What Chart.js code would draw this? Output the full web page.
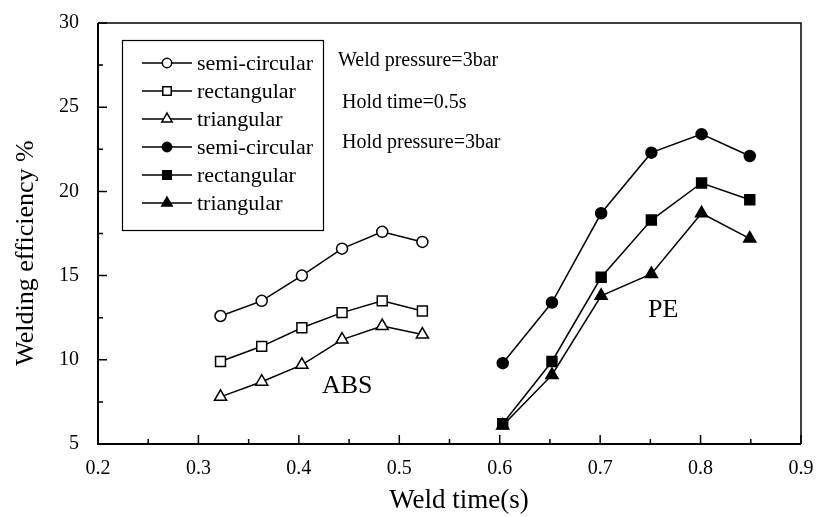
<!DOCTYPE html>
<html><head><meta charset="utf-8">
<script src="https://cdn.jsdelivr.net/npm/chart.js@4/dist/chart.umd.min.js"></script>
<style>html,body{margin:0;padding:0;background:#fff}canvas{display:block}</style>
</head><body>
<canvas id="c" width="825" height="517"></canvas>
<script>
// ---- data ----
const absTime = [0.322, 0.363, 0.403, 0.443, 0.483, 0.523];
const peTime  = [0.603, 0.652, 0.701, 0.751, 0.801, 0.849];
const absSemiCircular = [12.6, 13.5, 15.0, 16.6, 17.6, 17.0];
const absRectangular  = [9.9, 10.8, 11.9, 12.8, 13.5, 12.9];
const absTriangular   = [7.8, 8.7, 9.7, 11.2, 12.0, 11.5];
const peSemiCircular  = [9.8, 13.4, 18.7, 22.3, 23.4, 22.1];
const peRectangular   = [6.2, 9.9, 14.9, 18.3, 20.5, 19.5];
const peTriangular    = [6.1, 9.1, 13.8, 15.1, 18.7, 17.2];
const seriesLabels = ['semi-circular', 'rectangular', 'triangular', 'semi-circular', 'rectangular', 'triangular'];
const xMajorTicks = [0.2, 0.3, 0.4, 0.5, 0.6, 0.7, 0.8, 0.9];
const xMinorTicks = [0.25, 0.35, 0.45, 0.55, 0.65, 0.75, 0.85];
const yMajorTicks = [5, 10, 15, 20, 25, 30];
const yMinorTicks = [7.5, 12.5, 17.5, 22.5, 27.5];
const notes = ['Weld pressure=3bar', 'Hold time=0.5s', 'Hold pressure=3bar'];
const groupLabels = ['ABS', 'PE'];
const xTitle = 'Weld time(s)';
const yTitle = 'Welding efficiency %';

const SERIF = '"Liberation Serif","Times New Roman","DejaVu Serif",serif';

function pts(xs, ys) { return xs.map((x, i) => ({ x: x, y: ys[i] })); }

const styles = [
  { pointStyle: 'circle',   r: 5.5, fill: '#fff' },
  { pointStyle: 'rect',     r: 7,   fill: '#fff' },
  { pointStyle: 'triangle', r: 7,   fill: '#fff' },
  { pointStyle: 'circle',   r: 5.5, fill: '#000' },
  { pointStyle: 'rect',     r: 7,   fill: '#000' },
  { pointStyle: 'triangle', r: 7,   fill: '#000' }
];
const seriesData = [
  pts(absTime, absSemiCircular), pts(absTime, absRectangular), pts(absTime, absTriangular),
  pts(peTime, peSemiCircular), pts(peTime, peRectangular), pts(peTime, peTriangular)
];

const datasets = seriesData.map((d, i) => ({
  label: seriesLabels[i],
  data: d,
  showLine: true,
  tension: 0,
  borderColor: '#000',
  borderWidth: 1.5,
  pointStyle: styles[i].pointStyle,
  pointRadius: styles[i].r,
  pointHoverRadius: styles[i].r,
  pointBackgroundColor: styles[i].fill,
  pointBorderColor: '#000',
  pointBorderWidth: 1.5
}));

function drawMarker(ctx, style, r, fill, x, y) {
  ctx.save();
  ctx.fillStyle = fill; ctx.strokeStyle = '#000'; ctx.lineWidth = 1.5;
  if (Chart.helpers && Chart.helpers.drawPoint) {
    Chart.helpers.drawPoint(ctx, { pointStyle: style, radius: r, rotation: 0, borderWidth: 1.5 }, x, y);
  }
  ctx.restore();
}

const decor = {
  id: 'decor',
  afterDraw(chart) {
    const ctx = chart.ctx;
    const { left, right, top, bottom } = chart.chartArea;
    const xs = chart.scales.x, ys = chart.scales.y;
    ctx.save();
    ctx.strokeStyle = '#000';
    // frame
    ctx.lineWidth = 1.5;
    ctx.beginPath();
    ctx.moveTo(left, top); ctx.lineTo(right, top); ctx.lineTo(right, bottom);
    ctx.stroke();
    ctx.lineWidth = 2;
    ctx.beginPath();
    ctx.moveTo(left, top); ctx.lineTo(left, bottom); ctx.lineTo(right, bottom);
    ctx.stroke();
    // inward ticks
    ctx.lineWidth = 1.5;
    ctx.beginPath();
    xMajorTicks.forEach(v => { const p = xs.getPixelForValue(v); ctx.moveTo(p, bottom); ctx.lineTo(p, bottom - 9); });
    xMinorTicks.forEach(v => { const p = xs.getPixelForValue(v); ctx.moveTo(p, bottom); ctx.lineTo(p, bottom - 5); });
    yMajorTicks.forEach(v => { const p = ys.getPixelForValue(v); ctx.moveTo(left, p); ctx.lineTo(left + 9, p); });
    yMinorTicks.forEach(v => { const p = ys.getPixelForValue(v); ctx.moveTo(left, p); ctx.lineTo(left + 5, p); });
    ctx.stroke();

    // legend box
    ctx.lineWidth = 1.2;
    ctx.strokeRect(122.5, 40.5, 201, 190);
    const rowY = [63, 91, 119, 147, 175, 203];
    ctx.font = '22px ' + SERIF;
    ctx.fillStyle = '#000';
    ctx.textBaseline = 'middle';
    ctx.textAlign = 'left';
    rowY.forEach((y, i) => {
      ctx.lineWidth = 1.5;
      ctx.beginPath(); ctx.moveTo(142, y); ctx.lineTo(192, y); ctx.stroke();
      drawMarker(ctx, styles[i].pointStyle, styles[i].r * 0.85, styles[i].fill, 167, y);
      ctx.fillStyle = '#000';
      ctx.fillText(seriesLabels[i], 197, y + 1);
    });

    // condition notes
    ctx.font = '20px ' + SERIF;
    ctx.textBaseline = 'middle';
    ctx.fillText(notes[0], 338, 61);
    ctx.fillText(notes[1], 342, 103);
    ctx.fillText(notes[2], 342, 143);

    // group labels
    ctx.font = '26px ' + SERIF;
    ctx.textBaseline = 'alphabetic';
    ctx.fillText(groupLabels[0], 322, 393);
    ctx.fillText(groupLabels[1], 648, 317);

    // axis titles
    ctx.font = '27px ' + SERIF;
    ctx.textAlign = 'center';
    ctx.fillText(xTitle, 459, 508);
    ctx.save();
    ctx.translate(33, 253);
    ctx.rotate(-Math.PI / 2);
    ctx.font = '26px ' + SERIF;
    ctx.fillText(yTitle, 0, 0);
    ctx.restore();
    ctx.restore();
  }
};

new Chart(document.getElementById('c'), {
  type: 'scatter',
  data: { datasets: datasets },
  options: {
    responsive: false,
    animation: false,
    devicePixelRatio: 1,
    layout: { padding: { top: 21, right: 24, bottom: 0, left: 0 } },
    plugins: { legend: { display: false }, tooltip: { enabled: false } },
    scales: {
      x: {
        type: 'linear', min: 0.2, max: 0.9,
        afterBuildTicks(s) { s.ticks = xMajorTicks.map(v => ({ value: v })); },
        ticks: { color: '#000', font: { family: SERIF, size: 20 }, padding: 5,
                 callback: v => Number(v).toFixed(1) },
        grid: { display: false }, border: { display: false },
        afterFit(s) { s.height = 73; }
      },
      y: {
        type: 'linear', min: 5, max: 30,
        afterBuildTicks(s) { s.ticks = yMajorTicks.map(v => ({ value: v })); },
        ticks: { color: '#000', font: { family: SERIF, size: 20 }, padding: 11,
                 callback: v => String(v) },
        grid: { display: false }, border: { display: false },
        afterFit(s) { s.width = 98; }
      }
    }
  },
  plugins: [decor]
});
</script>
</body></html>
